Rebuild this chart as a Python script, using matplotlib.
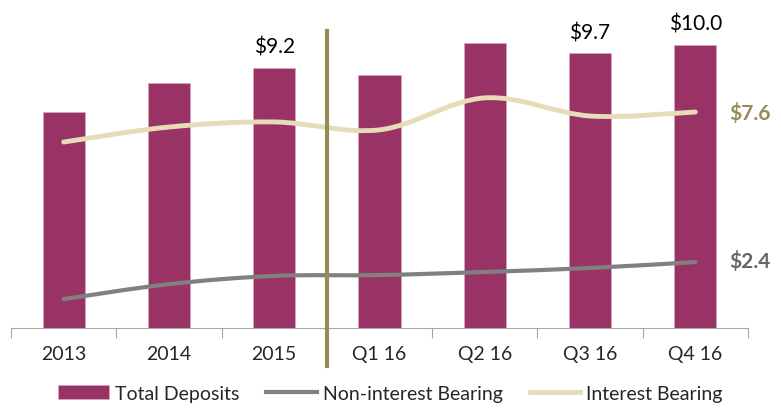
import numpy as np
import matplotlib
matplotlib.use("Agg")
import matplotlib.pyplot as plt
from matplotlib.path import Path
from matplotlib.patches import PathPatch
from matplotlib.lines import Line2D

plt.rcParams['font.family'] = ['Lato', 'DejaVu Sans']

# datos
periodos = ["2013", "2014", "2015", "Q1 16", "Q2 16", "Q3 16", "Q4 16"]
total_depositos = [7.63, 8.66, 9.2, 8.94, 10.07, 9.7, 10.0]
sin_interes = [1.02, 1.55, 1.84, 1.87, 1.98, 2.12, 2.33]
con_interes = [6.57, 7.10, 7.28, 7.00, 8.13, 7.49, 7.63]
etiquetas_barras = {2: "$9.2", 5: "$9.7", 6: "$10.0"}

COLOR_BAR = "#993366"
COLOR_GRIS = "#808080"
COLOR_BEIGE = "#E6DCB8"
COLOR_OLIVA = "#968C56"


def curva_suave(x, y):
    # curva tipo Excel (Catmull-Rom -> Bezier)
    pts = np.column_stack([x, y]).astype(float)
    verts = [pts[0]]
    codes = [Path.MOVETO]
    n = len(pts)
    for i in range(n - 1):
        p0 = pts[i - 1] if i > 0 else pts[i]
        p1 = pts[i]
        p2 = pts[i + 1]
        p3 = pts[i + 2] if i + 2 < n else pts[i + 1]
        c1 = p1 + (p2 - p0) / 6.0
        c2 = p2 - (p3 - p1) / 6.0
        verts += [c1, c2, p2]
        codes += [Path.CURVE4] * 3
    return Path(verts, codes)


fig = plt.figure(figsize=(7.81, 4.14), dpi=100)
ax = fig.add_axes([11 / 781, 85 / 414, 737 / 781, 319 / 414])

x = np.arange(len(periodos))
barras = ax.bar(x, total_depositos, width=0.4, color=COLOR_BAR, edgecolor="#D9A3BF",
                linewidth=0.6, zorder=2, label="Total Deposits")

handles = [barras]
for serie, color, lw, nombre in [(sin_interes, COLOR_GRIS, 3, "Non-interest Bearing"),
                                  (con_interes, COLOR_BEIGE, 3.5, "Interest Bearing")]:
    ax.add_patch(PathPatch(curva_suave(x, serie), facecolor="none", edgecolor=color,
                           lw=lw, capstyle="round", zorder=3))
    h, = ax.plot([], [], color=color, lw=lw, label=nombre)
    handles.append(h)

for i, txt in etiquetas_barras.items():
    ax.text(x[i], total_depositos[i] + 0.4, txt, ha="center", va="bottom",
            fontsize=15, color="black")

ax.text(6.32, con_interes[-1], "$7.6", color=COLOR_OLIVA, fontsize=15,
        fontweight="bold", va="center", ha="left")
ax.text(6.32, sin_interes[-1] + 0.05, "$2.4", color="#666666", fontsize=15,
        fontweight="bold", va="center", ha="left")

# separador entre anual y trimestral
ax.add_line(Line2D([2.5, 2.5], [-0.12, 0.93], transform=ax.get_xaxis_transform(),
                   color=COLOR_OLIVA, lw=3, clip_on=False, zorder=4))

ax.set_xlim(-0.5, 6.5)
ax.set_ylim(0, 11.27)
for s in ["top", "right", "left"]:
    ax.spines[s].set_visible(False)
ax.spines["bottom"].set_color("#A6A6A6")
ax.set_yticks([])
ax.set_xticks(np.arange(-0.5, 7, 1), minor=False)
ax.set_xticklabels([])
ax.set_xticks(x, minor=True)
ax.set_xticklabels(periodos, minor=True, fontsize=14, color="#262626")
ax.tick_params(axis="x", which="major", length=7, color="#A6A6A6")
ax.tick_params(axis="x", which="minor", length=0, pad=12)

fig.legend(handles=handles, loc="lower center", bbox_to_anchor=(0.5, -0.015), ncol=3,
           frameon=False, fontsize=14, handlelength=2.6, handletextpad=0.3,
           columnspacing=1.4, labelcolor="#262626")

fig.savefig("out.png", dpi=100)
